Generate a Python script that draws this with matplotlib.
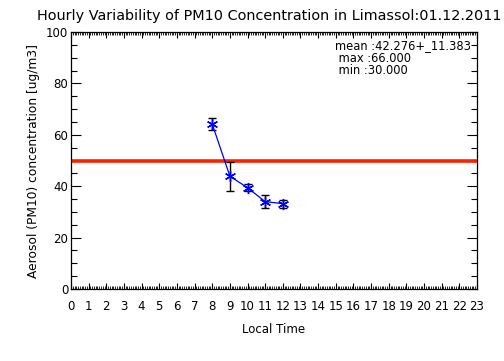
import matplotlib
matplotlib.use("Agg")
import matplotlib.pyplot as plt
import numpy as np
from matplotlib.ticker import MultipleLocator

hours = [8, 9, 10, 11, 12]
pm10 = [64.2, 43.9, 39.4, 34.0, 33.2]
pm10_err = [2.5, 5.7, 1.4, 2.5, 1.6]
limit_value = 50
xticks = list(range(0, 24))
yticks = [0, 20, 40, 60, 80, 100]
title = "Hourly Variability of PM10 Concentration in Limassol:01.12.2011"
stats = ["mean :42.276+_11.383", " max :66.000", " min :30.000"]

plt.rcParams['font.family'] = ['DejaVu Sans']
fig = plt.figure(figsize=(5.04, 3.61), dpi=100)
W, H = 504, 361
left, right, top, bottom = 71, 477, 32, 289
ax = fig.add_axes([left / W, 1 - bottom / H, (right - left) / W, (bottom - top) / H])

ax.axhline(limit_value, color='#ff2000', lw=2.6, zorder=2)
ax.errorbar(hours, pm10, yerr=pm10_err, fmt='none', ecolor='black', elinewidth=1.0,
            capsize=3, capthick=1.0, zorder=3)
ax.plot(hours, pm10, color='blue', lw=0.9, marker=(6, 2, 0), markersize=8,
        markeredgewidth=1.0, markeredgecolor='blue', zorder=4)

ax.set_xlim(0, 23)
ax.set_ylim(0, 100)
ax.set_xticks(xticks)
ax.set_yticks(yticks)
ax.xaxis.set_minor_locator(MultipleLocator(0.1))
ax.yaxis.set_minor_locator(MultipleLocator(5))
ax.tick_params(axis='x', which='major', direction='in', length=4, width=0.8,
               top=True, bottom=True, labelsize=8.5, pad=8)
ax.tick_params(axis='x', which='minor', direction='in', length=2, width=0.6,
               top=True, bottom=True)
ax.tick_params(axis='y', which='major', direction='in', length=7, width=0.8,
               left=True, right=True, labelsize=8.5, pad=2)
ax.tick_params(axis='y', which='minor', direction='in', length=4, width=0.8,
               left=True, right=True)
for s in ax.spines.values():
    s.set_linewidth(0.9)

ax.set_xlabel("Local Time", fontsize=8.5, labelpad=7)
ax.set_ylabel("Aerosol (PM10) concentration [ug/m3]", fontsize=8.8, labelpad=4)
fig.text(37 / W, 1 - 16 / H, title, fontsize=10.4, ha='left', va='center')

ys = [46, 58, 70]
for s, y in zip(stats, ys):
    fig.text(335 / W, 1 - y / H, s, fontsize=8.3, ha='left', va='center')

fig.savefig("out.png", dpi=100)
